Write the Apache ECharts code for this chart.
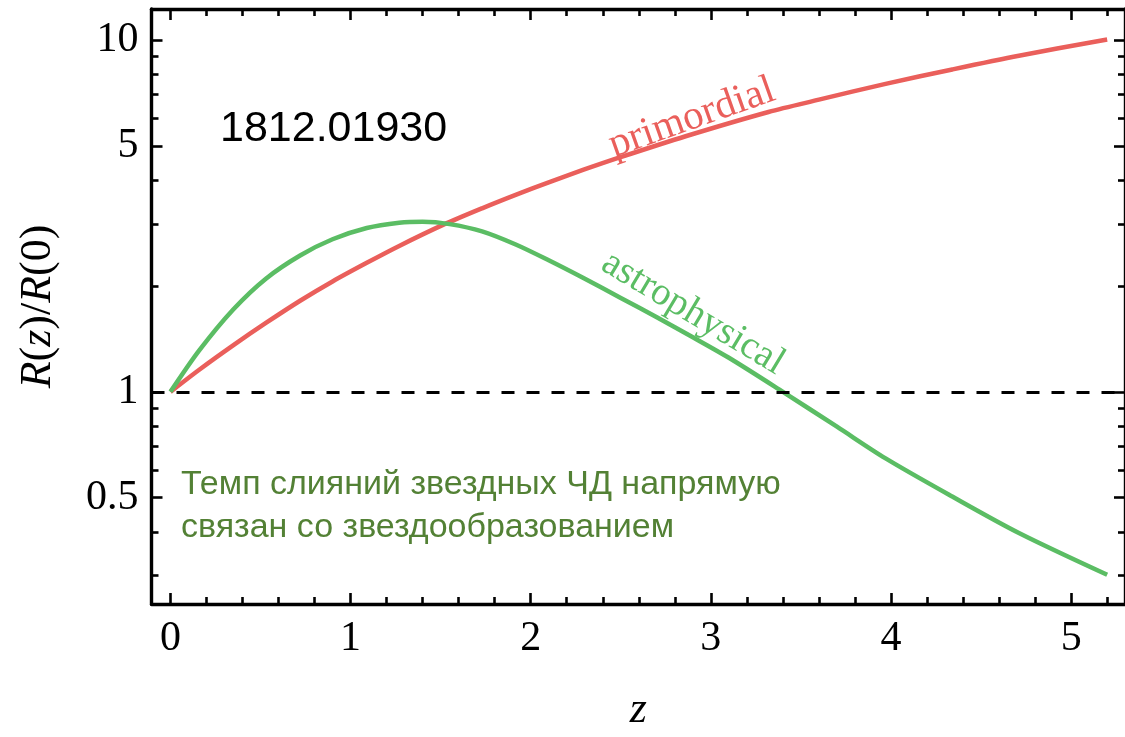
<!DOCTYPE html>
<html>
<head>
<meta charset="utf-8">
<script src="https://cdn.jsdelivr.net/npm/echarts@6/dist/echarts.min.js"></script>
<style>
html,body{margin:0;padding:0;background:#fff;}
#chart{width:1125px;height:737px;}
</style>
</head>
<body>
<div id="chart"></div>
<script>
// ---- data ----
const zPrimordial = [0, 0.16, 0.35, 0.53, 0.72, 0.90, 1.09, 1.27, 1.51, 1.73, 1.92, 2.10, 2.29, 2.49, 2.86, 3.32, 3.60, 3.97, 4.34, 4.71, 5.20];
const rPrimordial = [1.00, 1.156, 1.358, 1.570, 1.816, 2.061, 2.328, 2.600, 2.979, 3.327, 3.639, 3.945, 4.276, 4.634, 5.333, 6.252, 6.776, 7.516, 8.26, 9.036, 10.05];

const zAstro = [0, 0.16, 0.35, 0.53, 0.72, 0.90, 1.09, 1.27, 1.40, 1.55, 1.73, 1.92, 2.10, 2.29, 2.50, 2.70, 2.90, 3.10, 3.40, 3.70, 3.97, 4.34, 4.71, 5.20];
const rAstro = [1.00, 1.312, 1.718, 2.099, 2.443, 2.716, 2.924, 3.027, 3.048, 3.00, 2.86, 2.62, 2.366, 2.11, 1.85, 1.63, 1.43, 1.25, 1.00, 0.796, 0.647, 0.504, 0.397, 0.302];

const xMajorTicks = [0, 1, 2, 3, 4, 5];
const xMinorTicks = [0.2, 0.4, 0.6, 0.8, 1.2, 1.4, 1.6, 1.8, 2.2, 2.4, 2.6, 2.8, 3.2, 3.4, 3.6, 3.8, 4.2, 4.4, 4.6, 4.8, 5.2];
const yMajorTicks = [0.5, 1, 5, 10];
const yMajorLabels = ['0.5', '1', '5', '10'];
const yMinorTicks = [0.3, 0.4, 0.6, 0.7, 0.8, 0.9, 2, 3, 4, 6, 7, 8, 9];
const refLevel = 1;

const xMin = -0.105, xMax = 5.299;
const yMin = 0.2493, yMax = 12.27;

// ---- helpers ----
const L = Math.log10;
const pairs = (zs, rs) => zs.map((z, i) => [z, L(rs[i])]);
const serif = 'Liberation Serif';

function makeAxis(kind, position, ticks, len, opts) {
  const ax = {
    type: 'value',
    position: position,
    min: kind === 'x' ? xMin : L(yMin),
    max: kind === 'x' ? xMax : L(yMax),
    splitLine: { show: false },
    axisLine: { show: !!opts.line, onZero: false, lineStyle: { color: '#000', width: 3.4 } },
    axisTick: {
      show: true, inside: true, length: len,
      customValues: kind === 'x' ? ticks : ticks.map(L),
      lineStyle: { color: '#000', width: 2.6 }
    },
    axisLabel: { show: false },
    z: 5
  };
  if (opts.labels) {
    ax.axisLabel = {
      show: true,
      customValues: kind === 'x' ? ticks : ticks.map(L),
      fontFamily: serif, fontSize: 42, color: '#000',
      margin: opts.margin,
      formatter: kind === 'x'
        ? (v) => String(Math.round(v))
        : (v) => {
            for (let i = 0; i < yMajorTicks.length; i++) {
              if (Math.abs(L(yMajorTicks[i]) - v) < 1e-6) return yMajorLabels[i];
            }
            return '';
          }
    };
  }
  if (opts.name) Object.assign(ax, opts.name);
  return ax;
}

const chart = echarts.init(document.getElementById('chart'), null, { renderer: 'canvas' });

const option = {
  animation: false,
  backgroundColor: '#fff',
  grid: { left: 151.5, top: 9, width: 975.5, height: 604, containLabel: false },
  xAxis: [
    makeAxis('x', 'bottom', xMajorTicks, 11, {
      line: true, labels: true, margin: 14,
      name: {
        name: 'z', nameLocation: 'middle', nameGap: 84,
        nameTextStyle: { fontFamily: serif, fontStyle: 'italic', fontSize: 44, color: '#000' }
      }
    }),
    makeAxis('x', 'bottom', xMinorTicks, 7, {}),
    makeAxis('x', 'top', xMajorTicks, 11, { line: true }),
    makeAxis('x', 'top', xMinorTicks, 7, {})
  ],
  yAxis: [
    makeAxis('y', 'left', yMajorTicks, 11, {
      line: true, labels: true, margin: 13,
      name: {
        name: '{i|R}{n|(}{i|z}{n|)/}{i|R}{n|(0)}',
        nameLocation: 'middle', nameGap: 91, nameRotate: 90,
        nameTextStyle: {
          fontFamily: serif, fontSize: 44, color: '#000',
          rich: {
            i: { fontFamily: serif, fontStyle: 'italic', fontSize: 44, color: '#000' },
            n: { fontFamily: serif, fontSize: 44, color: '#000' }
          }
        }
      }
    }),
    makeAxis('y', 'left', yMinorTicks, 7, {}),
    makeAxis('y', 'right', yMajorTicks, 11, { line: true }),
    makeAxis('y', 'right', yMinorTicks, 7, {})
  ],
  series: [
    {
      name: 'primordial', type: 'line', xAxisIndex: 0, yAxisIndex: 0,
      data: pairs(zPrimordial, rPrimordial),
      smooth: 0.3, showSymbol: false, symbol: 'none',
      lineStyle: { color: '#ea5f5b', width: 4.5 },
      z: 3,
      markLine: {
        silent: true, symbol: ['none', 'none'], animation: false,
        label: { show: false },
        lineStyle: { color: '#000', width: 2.8, type: [13, 12] },
        data: [{ yAxis: L(refLevel) }]
      }
    },
    {
      name: 'astrophysical', type: 'line', xAxisIndex: 0, yAxisIndex: 0,
      data: pairs(zAstro, rAstro),
      smooth: 0.3, showSymbol: false, symbol: 'none',
      lineStyle: { color: '#5bbd64', width: 4.5 },
      z: 4
    }
  ],
  graphic: [
    {
      type: 'text', x: 220, y: 129,
      style: { text: '1812.01930', font: '43px "Liberation Sans"', fill: '#000', verticalAlign: 'middle', align: 'left' }
    },
    {
      type: 'text', x: 181, y: 485,
      style: { text: 'Темп слияний звездных ЧД напрямую', font: '34px "Liberation Sans"', fill: '#538135', verticalAlign: 'middle', align: 'left' }
    },
    {
      type: 'text', x: 181, y: 528,
      style: { text: 'связан со звездообразованием', font: '34px "Liberation Sans"', fill: '#538135', verticalAlign: 'middle', align: 'left' }
    },
    {
      type: 'text', x: 692, y: 118, rotation: 19.5 * Math.PI / 180,
      style: { text: 'primordial', font: '41px "Liberation Serif"', fill: '#ea5f5b', verticalAlign: 'middle', align: 'center' }
    },
    {
      type: 'text', x: 693, y: 313, rotation: -31 * Math.PI / 180,
      style: { text: 'astrophysical', font: '39px "Liberation Serif"', fill: '#5bbd64', verticalAlign: 'middle', align: 'center' }
    }
  ]
};

chart.setOption(option);
</script>
</body>
</html>
